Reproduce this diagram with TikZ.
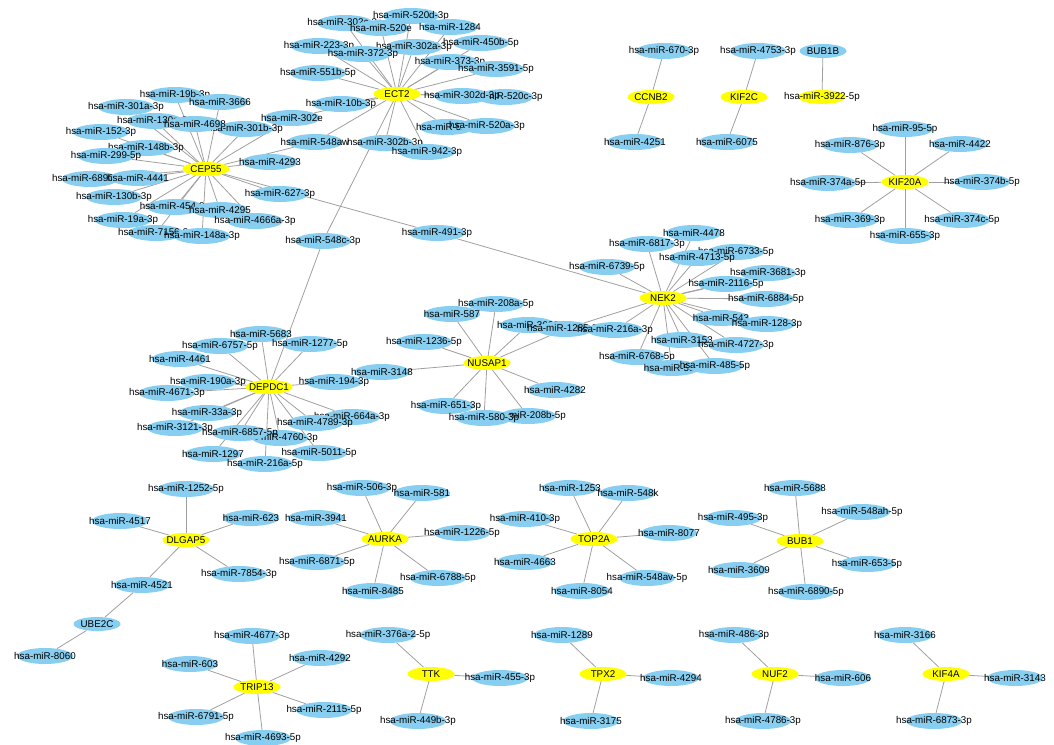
\documentclass[tikz,border=0pt]{standalone}
\usepackage{fontspec}
\setmainfont{Liberation Sans}
\usetikzlibrary{shapes.geometric,backgrounds}
\definecolor{mirBlue}{RGB}{135,206,240}
\definecolor{geneYellow}{RGB}{255,255,0}
\definecolor{edgeGray}{RGB}{160,160,160}

\begin{document}
\begin{tikzpicture}[x=1pt,y=-1pt,
    base/.style={ellipse, inner sep=0pt, font=\fontsize{9.8}{11}\selectfont,
        execute at begin node={\hbox to 0pt\bgroup\hss},
        execute at end node={\hss\egroup}},
    mir/.style={base, fill=mirBlue, minimum width=56pt, minimum height=16pt},
    gene/.style={base, fill=geneYellow, minimum width=47pt, minimum height=14pt},
    link/.style={draw=edgeGray, line width=0.8pt}]
    \useasboundingbox (0,0) rectangle (1054,744);

    % ECT2 cluster
    \node[mir] (r302c) at (345,23) {hsa-miR-302c-3p};
    \node[mir] (r520d) at (411,16) {hsa-miR-520d-3p};
    \node[mir] (r520e) at (381,28) {hsa-miR-520e};
    \node[mir] (r1284) at (450,27) {hsa-miR-1284};
    \node[mir] (r223) at (319,46) {hsa-miR-223-3p};
    \node[mir] (r302a) at (414,47) {hsa-miR-302a-3p};
    \node[mir] (r372) at (363,54) {hsa-miR-372-3p};
    \node[mir] (r450b) at (481,43) {hsa-miR-450b-5p};
    \node[mir] (r373) at (450,62) {hsa-miR-373-3p};
    \node[mir] (r3591) at (496,69) {hsa-miR-3591-5p};
    \node[mir] (r551b) at (318,73) {hsa-miR-551b-5p};
    \node[mir] (r520c) at (505,97) {hsa-miR-520c-3p};
    \node[mir] (r302d) at (462,96) {hsa-miR-302d-3p};
    \node[mir] (r10b) at (341,104) {hsa-miR-10b-3p};
    \node[mir] (r302e) at (292,118) {hsa-miR-302e};
    \node[mir] (r520b) at (447,127) {hsa-miR-520b};
    \node[mir] (r520a) at (487,126) {hsa-miR-520a-3p};
    \node[mir] (r548aw) at (315,142) {hsa-miR-548aw};
    \node[mir] (r302b) at (385,143) {hsa-miR-302b-3p};
    \node[mir] (r942) at (427,152) {hsa-miR-942-3p};
    \node[gene] (ect2) at (397,94) {ECT2};

    % CEP55 cluster
    \node[mir] (r19b) at (175,95) {hsa-miR-19b-3p};
    \node[mir] (r3666) at (220,102) {hsa-miR-3666};
    \node[mir] (r301a) at (126,107) {hsa-miR-301a-3p};
    \node[mir] (r130a) at (155,121) {hsa-miR-130a-3p};
    \node[mir] (r301b) at (245,129) {hsa-miR-301b-3p};
    \node[mir] (r4698) at (195,124) {hsa-miR-4698};
    \node[mir] (r148b) at (146,148) {hsa-miR-148b-3p};
    \node[mir] (r152) at (101,132) {hsa-miR-152-3p};
    \node[mir] (r299) at (106,156) {hsa-miR-299-5p};
    \node[mir] (r4293) at (270,162) {hsa-miR-4293};
    \node[mir] (r6890) at (90,179) {hsa-miR-6890-3p};
    \node[mir] (r4441) at (138,178) {hsa-miR-4441};
    \node[mir] (r627) at (280,194) {hsa-miR-627-3p};
    \node[mir] (r130b) at (114,197) {hsa-miR-130b-3p};
    \node[mir] (r454) at (175,207) {hsa-miR-454-3p};
    \node[mir] (r4295) at (220,210) {hsa-miR-4295};
    \node[mir] (r19a) at (123,220) {hsa-miR-19a-3p};
    \node[mir] (r4666a) at (255,221) {hsa-miR-4666a-3p};
    \node[mir] (r7156) at (156,233) {hsa-miR-7156-3p};
    \node[mir] (r148a) at (202,236) {hsa-miR-148a-3p};
    \node[gene] (cep55) at (206,169) {CEP55};

    % shared between clusters
    \node[mir] (r548c) at (323,241) {hsa-miR-548c-3p};
    \node[mir] (r491) at (437,233) {hsa-miR-491-3p};

    % NEK2 cluster
    \node[mir] (r4478) at (694,233) {hsa-miR-4478};
    \node[mir] (r6817) at (647,244) {hsa-miR-6817-3p};
    \node[mir] (r6733) at (736,252) {hsa-miR-6733-5p};
    \node[mir] (r4713) at (697,258) {hsa-miR-4713-5p};
    \node[mir] (r6739) at (607,267) {hsa-miR-6739-5p};
    \node[mir] (r3681) at (768,273) {hsa-miR-3681-3p};
    \node[mir] (r2116) at (726,284) {hsa-miR-2116-5p};
    \node[mir] (r6884) at (766,299) {hsa-miR-6884-5p};
    \node[mir] (r543) at (721,318) {hsa-miR-543};
    \node[mir] (r128) at (767,324) {hsa-miR-128-3p};
    \node[mir] (r3662) at (528,325) {hsa-miR-3662};
    \node[mir] (r1285) at (565,329) {hsa-miR-1285-3p};
    \node[mir] (r216a) at (615,330) {hsa-miR-216a-3p};
    \node[mir] (r3153) at (682,340) {hsa-miR-3153};
    \node[mir] (r4727) at (736,345) {hsa-miR-4727-3p};
    \node[mir] (r6768) at (637,357) {hsa-miR-6768-5p};
    \node[mir] (r503) at (672,368) {hsa-miR-503};
    \node[mir] (r485) at (715,366) {hsa-miR-485-5p};
    \node[gene] (nek2) at (663,298) {NEK2};

    % NUSAP1 cluster
    \node[mir] (r208a) at (496,304) {hsa-miR-208a-5p};
    \node[mir] (r587) at (452,314) {hsa-miR-587};
    \node[mir] (r1236) at (424,342) {hsa-miR-1236-5p};
    \node[mir] (r3148) at (382,372) {hsa-miR-3148};
    \node[mir] (r4282) at (555,390) {hsa-miR-4282};
    \node[mir] (r651) at (446,406) {hsa-miR-651-3p};
    \node[mir] (r208b) at (528,416) {hsa-miR-208b-5p};
    \node[mir] (r580) at (484,418) {hsa-miR-580-3p};
    \node[gene] (nusap1) at (487,363) {NUSAP1};

    % DEPDC1 cluster
    \node[mir] (r5683) at (261,334) {hsa-miR-5683};
    \node[mir] (r6757) at (220,346) {hsa-miR-6757-5p};
    \node[mir] (r1277) at (310,344) {hsa-miR-1277-5p};
    \node[mir] (r4461) at (180,359) {hsa-miR-4461};
    \node[mir] (r190a) at (208,382) {hsa-miR-190a-3p};
    \node[mir] (r194) at (334,382) {hsa-miR-194-3p};
    \node[mir] (r4671) at (167,393) {hsa-miR-4671-3p};
    \node[mir] (r33a) at (207,413) {hsa-miR-33a-3p};
    \node[mir] (r664a) at (352,417) {hsa-miR-664a-3p};
    \node[mir] (r4789) at (315,423) {hsa-miR-4789-3p};
    \node[mir] (r3121) at (175,428) {hsa-miR-3121-3p};
    \node[mir] (r4760) at (280,438) {hsa-miR-4760-3p};
    \node[mir] (r6857) at (240,433) {hsa-miR-6857-5p};
    \node[mir] (r1297) at (213,454) {hsa-miR-1297};
    \node[mir] (r5011) at (319,453) {hsa-miR-5011-5p};
    \node[mir] (r216b) at (265,464) {hsa-miR-216a-5p};
    \node[gene] (depdc1) at (269,387) {DEPDC1};

    % small top-right pairs
    \node[mir] (r670) at (664,51) {hsa-miR-670-3p};
    \node[gene] (ccnb2) at (651,97) {CCNB2};
    \node[mir] (r4251) at (635,142) {hsa-miR-4251};
    \node[mir] (r4753) at (758,51) {hsa-miR-4753-3p};
    \node[gene] (kif2c) at (744,97) {KIF2C};
    \node[mir] (r6075) at (727,142) {hsa-miR-6075};
    \node[gene, fill=mirBlue] (bub1b) at (823,51) {BUB1B};
    \node[gene] (r3922) at (822,97) {hsa-miR-3922-5p};

    % KIF20A cluster
    \node[mir] (r95) at (905,129) {hsa-miR-95-5p};
    \node[mir] (r876) at (850,145) {hsa-miR-876-3p};
    \node[mir] (r4422) at (960,144) {hsa-miR-4422};
    \node[mir] (r374a) at (828,183) {hsa-miR-374a-5p};
    \node[mir] (r374b) at (982,182) {hsa-miR-374b-5p};
    \node[mir] (r369) at (850,220) {hsa-miR-369-3p};
    \node[mir] (r374c) at (962,220) {hsa-miR-374c-5p};
    \node[mir] (r655) at (905,236) {hsa-miR-655-3p};
    \node[gene] (kif20a) at (905,182) {KIF20A};

    % DLGAP5 and UBE2C
    \node[mir] (r1252) at (186,489) {hsa-miR-1252-5p};
    \node[mir] (r4517) at (120,521) {hsa-miR-4517};
    \node[mir] (r623) at (251,518) {hsa-miR-623};
    \node[mir] (r7854) at (239,574) {hsa-miR-7854-3p};
    \node[mir] (r4521) at (142,585) {hsa-miR-4521};
    \node[gene, fill=mirBlue] (ube2c) at (97,624) {UBE2C};
    \node[mir] (r8060) at (45,656) {hsa-miR-8060};
    \node[gene] (dlgap5) at (186,540) {DLGAP5};

    % AURKA cluster
    \node[mir] (r506) at (362,488) {hsa-miR-506-3p};
    \node[mir] (r581) at (422,493) {hsa-miR-581};
    \node[mir] (r3941) at (316,518) {hsa-miR-3941};
    \node[mir] (r1226) at (462,533) {hsa-miR-1226-5p};
    \node[mir] (r6871) at (317,562) {hsa-miR-6871-5p};
    \node[mir] (r6788) at (438,578) {hsa-miR-6788-5p};
    \node[mir] (r8485) at (373,591) {hsa-miR-8485};
    \node[gene] (aurka) at (385,539) {AURKA};

    % TOP2A cluster
    \node[mir] (r1253) at (570,488) {hsa-miR-1253};
    \node[mir] (r548k) at (628,493) {hsa-miR-548k};
    \node[mir] (r410) at (525,519) {hsa-miR-410-3p};
    \node[mir] (r8077) at (669,533) {hsa-miR-8077};
    \node[mir] (r4663) at (525,562) {hsa-miR-4663};
    \node[mir] (r548av) at (647,578) {hsa-miR-548av-5p};
    \node[mir] (r8054) at (582,591) {hsa-miR-8054};
    \node[gene] (top2a) at (594,539) {TOP2A};

    % BUB1 cluster
    \node[mir] (r5688) at (795,488) {hsa-miR-5688};
    \node[mir] (r495) at (733,518) {hsa-miR-495-3p};
    \node[mir] (r548ah) at (862,512) {hsa-miR-548ah-5p};
    \node[mir] (r3609) at (739,570) {hsa-miR-3609};
    \node[mir] (r653) at (867,564) {hsa-miR-653-5p};
    \node[mir] (r6890b) at (806,592) {hsa-miR-6890-5p};
    \node[gene] (bub1) at (800,541) {BUB1};

    % bottom row
    \node[mir] (r4677) at (252,636) {hsa-miR-4677-3p};
    \node[mir] (r603) at (190,664) {hsa-miR-603};
    \node[mir] (r4292) at (320,658) {hsa-miR-4292};
    \node[mir] (r2115) at (324,710) {hsa-miR-2115-5p};
    \node[mir] (r6791) at (196,717) {hsa-miR-6791-5p};
    \node[mir] (r4693) at (263,738) {hsa-miR-4693-5p};
    \node[gene] (trip13) at (257,687) {TRIP13};

    \node[mir] (r376a) at (388,635) {hsa-miR-376a-2-5p};
    \node[mir] (r455) at (500,678) {hsa-miR-455-3p};
    \node[mir] (r449b) at (418,721) {hsa-miR-449b-3p};
    \node[gene] (ttk) at (431,674) {TTK};

    \node[mir] (r1289) at (562,635) {hsa-miR-1289};
    \node[mir] (r4294) at (671,678) {hsa-miR-4294};
    \node[mir] (r3175) at (591,721) {hsa-miR-3175};
    \node[gene] (tpx2) at (603,674) {TPX2};

    \node[mir] (r486) at (734,635) {hsa-miR-486-3p};
    \node[mir] (r606) at (843,678) {hsa-miR-606};
    \node[mir] (r4786) at (763,721) {hsa-miR-4786-3p};
    \node[gene] (nuf2) at (775,674) {NUF2};

    \node[mir] (r3166) at (905,635) {hsa-miR-3166};
    \node[mir] (r3143) at (1015,678) {hsa-miR-3143};
    \node[mir] (r6873) at (934,721) {hsa-miR-6873-3p};
    \node[gene] (kif4a) at (946,674) {KIF4A};

    % edges
    \begin{scope}[on background layer]
    \foreach \m in {r302c,r520d,r520e,r1284,r223,r302a,r372,r450b,r373,r3591,r551b,
        r302d,r520c,r10b,r302e,r520b,r520a,r548aw,r302b,r942,r548c}
        \draw[link] (ect2) -- (\m);
    \foreach \m in {r19b,r3666,r301a,r130a,r301b,r4698,r148b,r152,r299,r4293,r6890,
        r4441,r627,r130b,r454,r4295,r19a,r4666a,r7156,r148a,r491,r302e,r548aw}
        \draw[link] (cep55) -- (\m);
    \foreach \m in {r4478,r6817,r6733,r4713,r6739,r3681,r2116,r6884,r543,r128,r1285,
        r216a,r3153,r4727,r6768,r503,r485,r491}
        \draw[link] (nek2) -- (\m);
    \foreach \m in {r208a,r587,r3662,r1285,r1236,r3148,r4282,r651,r208b,r580}
        \draw[link] (nusap1) -- (\m);
    \foreach \m in {r5683,r6757,r1277,r4461,r190a,r194,r4671,r33a,r664a,r4789,r3121,
        r4760,r6857,r1297,r5011,r216b,r548c}
        \draw[link] (depdc1) -- (\m);
    \foreach \m in {r95,r876,r4422,r374a,r374b,r369,r374c,r655}
        \draw[link] (kif20a) -- (\m);
    \foreach \m in {r1252,r4517,r623,r7854,r4521}
        \draw[link] (dlgap5) -- (\m);
    \foreach \m in {r506,r581,r3941,r1226,r6871,r6788,r8485}
        \draw[link] (aurka) -- (\m);
    \foreach \m in {r1253,r548k,r410,r8077,r4663,r548av,r8054}
        \draw[link] (top2a) -- (\m);
    \foreach \m in {r5688,r495,r548ah,r3609,r653,r6890b}
        \draw[link] (bub1) -- (\m);
    \foreach \m in {r4677,r603,r4292,r2115,r6791,r4693}
        \draw[link] (trip13) -- (\m);
    \foreach \m in {r376a,r455,r449b}
        \draw[link] (ttk) -- (\m);
    \foreach \m in {r1289,r4294,r3175}
        \draw[link] (tpx2) -- (\m);
    \foreach \m in {r486,r606,r4786}
        \draw[link] (nuf2) -- (\m);
    \foreach \m in {r3166,r3143,r6873}
        \draw[link] (kif4a) -- (\m);
    \draw[link] (ccnb2) -- (r670);
    \draw[link] (ccnb2) -- (r4251);
    \draw[link] (kif2c) -- (r4753);
    \draw[link] (kif2c) -- (r6075);
    \draw[link] (bub1b) -- (r3922);
    \draw[link] (r4521) -- (ube2c);
    \draw[link] (ube2c) -- (r8060);
    \end{scope}
\end{tikzpicture}
\end{document}
